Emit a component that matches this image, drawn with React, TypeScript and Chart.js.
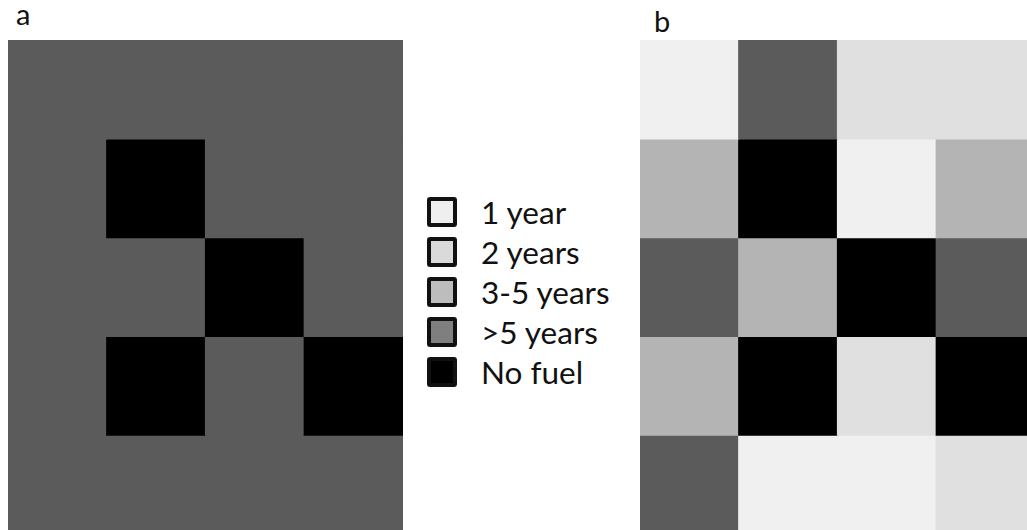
import React, { useEffect, useRef } from 'react';
import { Chart, registerables } from 'chart.js';

Chart.register(...registerables);

// Fuel age classes (legend order)
const fuelClasses = ['1 year', '2 years', '3-5 years', '>5 years', 'No fuel'];
const cellColors = ['#f0f0f0', '#e0e0e0', '#b4b4b4', '#5b5b5b', '#000000'];
const swatchColors = ['#efefef', '#dadada', '#bdbdbd', '#7f7f7f', '#000000'];

// Grid layout: 4 columns x 5 rows
const columns = ['c1', 'c2', 'c3', 'c4'];
const rowLabels = ['r1', 'r2', 'r3', 'r4', 'r5'];

// Class index per cell (0 = 1 year ... 4 = No fuel), row by row from the top
const gridA = [
  [3, 3, 3, 3],
  [3, 4, 3, 3],
  [3, 3, 4, 3],
  [3, 4, 3, 4],
  [3, 3, 3, 3],
];
const gridB = [
  [0, 3, 1, 1],
  [2, 4, 0, 2],
  [3, 2, 4, 3],
  [2, 4, 1, 4],
  [3, 0, 0, 1],
];

const FONT = 'Lato, "Open Sans", sans-serif';

function GridChart({ grid }: { grid: number[][] }) {
  const ref = useRef<HTMLCanvasElement | null>(null);
  useEffect(() => {
    if (!ref.current) return;
    const datasets = grid.map((row, r) => ({
      label: rowLabels[r],
      data: row.map(() => [r, r + 1] as [number, number]),
      backgroundColor: row.map((k) => cellColors[k]),
      borderWidth: 0,
      inflateAmount: 0.6,
      stack: 'grid',
      barPercentage: 1,
      categoryPercentage: 1,
    }));
    const chart = new Chart(ref.current, {
      type: 'bar',
      data: { labels: columns, datasets },
      options: {
        animation: false,
        responsive: false,
        maintainAspectRatio: false,
        layout: { padding: 0 },
        plugins: {
          legend: { display: false },
          tooltip: { enabled: false },
          title: { display: false },
        },
        scales: {
          x: { type: 'category', display: false, stacked: true, offset: true },
          y: {
            type: 'linear',
            display: false,
            stacked: false,
            min: 0,
            max: rowLabels.length,
            reverse: true,
          },
        },
      },
    });
    return () => chart.destroy();
  }, [grid]);
  return <canvas ref={ref} width={395} height={494} style={{ display: 'block' }} />;
}

export default function App() {
  return (
    <div style={{ fontFamily: FONT }}>
      <div
        style={{
          position: 'absolute',
          left: 16,
          top: 0,
          fontSize: 29,
          lineHeight: '28px',
          color: '#111',
        }}
      >
        a
      </div>
      <div
        style={{
          position: 'absolute',
          left: 654,
          top: 7,
          fontSize: 29,
          lineHeight: '28px',
          color: '#111',
        }}
      >
        b
      </div>
      <div
        style={{
          position: 'absolute',
          left: 8,
          top: 40,
          width: 395,
          height: 490,
          overflow: 'hidden',
        }}
      >
        <GridChart grid={gridA} />
      </div>
      <div
        style={{
          position: 'absolute',
          left: 640,
          top: 40,
          width: 387,
          height: 490,
          overflow: 'hidden',
        }}
      >
        <GridChart grid={gridB} />
      </div>
      {fuelClasses.map((name, i) => (
        <div
          key={name}
          style={{
            position: 'absolute',
            left: 427,
            top: 197 + i * 40,
            height: 30,
            display: 'flex',
            alignItems: 'center',
            whiteSpace: 'nowrap',
          }}
        >
          <div
            style={{
              width: 30,
              height: 30,
              boxSizing: 'border-box',
              border: '4px solid #111',
              borderRadius: 3,
              background: swatchColors[i],
            }}
          />
          <span
            style={{
              marginLeft: 24,
              fontSize: 31.5,
              lineHeight: '30px',
              color: '#111',
            }}
          >
            {name}
          </span>
        </div>
      ))}
    </div>
  );
}
